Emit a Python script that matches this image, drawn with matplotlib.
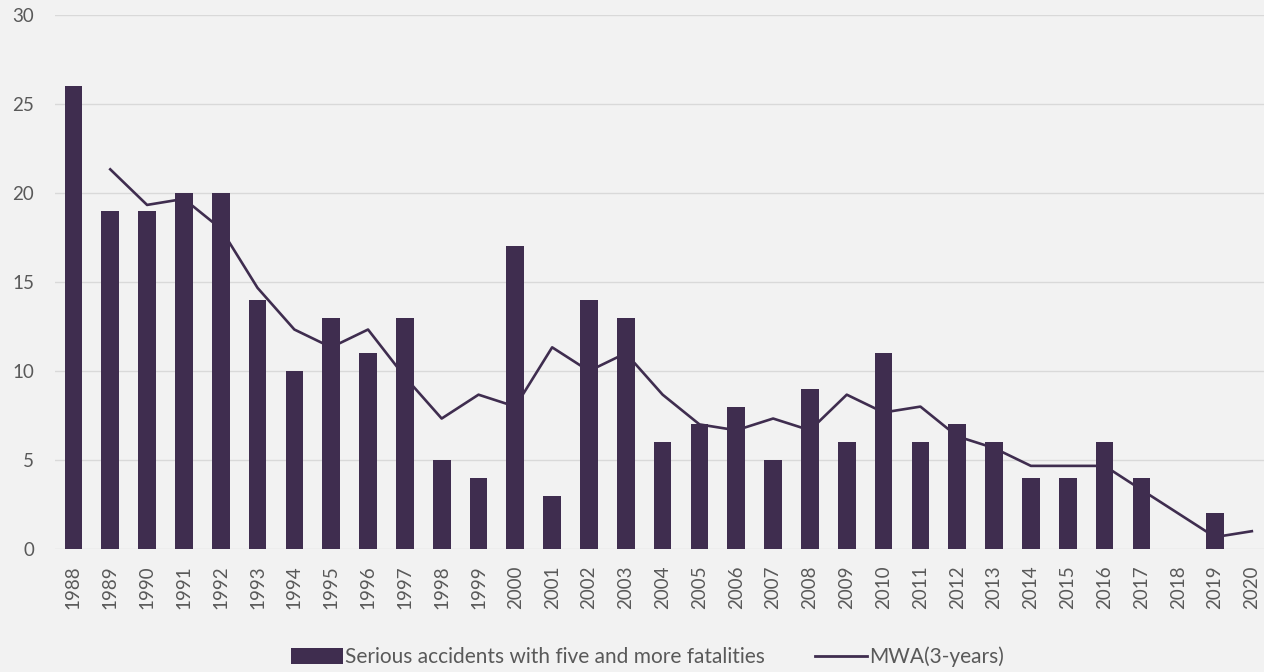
import matplotlib
matplotlib.use("Agg")
import matplotlib.pyplot as plt
from matplotlib.patches import Patch
from matplotlib.lines import Line2D

years = [str(y) for y in range(1988, 2021)]
accidents = [26, 19, 19, 20, 20, 14, 10, 13, 11, 13, 5, 4, 17, 3, 14, 13,
             6, 7, 8, 5, 9, 6, 11, 6, 7, 6, 4, 4, 6, 4, 0, 2, 0]
mwa_years = years[1:]
mwa = [21.33, 19.33, 19.67, 18.0, 14.67, 12.33, 11.33, 12.33, 9.67, 7.33,
       8.67, 8.0, 11.33, 10.0, 11.0, 8.67, 7.0, 6.67, 7.33, 6.67, 8.67, 7.67,
       8.0, 6.33, 5.67, 4.67, 4.67, 4.67, 3.33, 2.0, 0.67, 1.0]

plt.rcParams['font.family'] = ['Lato', 'DejaVu Sans']
bg = '#f2f2f2'
col = '#3f2d4f'
txt = '#595959'

fig = plt.figure(figsize=(12.64, 6.72), dpi=100, facecolor=bg)
ax = fig.add_axes([55/1264, 1-549/672, (1264-55)/1264, (549-15)/672])
ax.set_facecolor(bg)

x = list(range(len(years)))
ax.bar(x, accidents, width=0.48, color=col, zorder=3)
xm = [years.index(y) for y in mwa_years]
ax.plot(xm, mwa, color=col, lw=1.9, zorder=4)

ax.set_ylim(0, 30)
ax.set_yticks(range(0, 31, 5))
ax.set_xlim(-0.5, 32.33)
ax.set_xticks(x)
ax.set_xticklabels(years, rotation=90, fontsize=13.5, color=txt)
ax.tick_params(axis='y', labelsize=13.5, labelcolor=txt, length=0, pad=15)
ax.tick_params(axis='x', length=0, pad=12)
for lab in ax.get_yticklabels():
    lab.set_horizontalalignment('right')
ax.grid(axis='y', color='#d9d9d9', lw=1.0, zorder=0)
for s in ax.spines.values():
    s.set_visible(False)

handles = [Patch(facecolor=col, label='Serious accidents with five and more fatalities'),
           Line2D([0], [0], color=col, lw=2.0, label='MWA(3-years)')]
fig.legend(handles=handles, loc='center', bbox_to_anchor=(0.512, 1-657/672),
           ncol=2, frameon=False, fontsize=15, labelcolor=txt,
           handlelength=2.5, handleheight=0.8, handletextpad=0.1, columnspacing=2.4)

fig.savefig('out.png', dpi=100, facecolor=bg)
